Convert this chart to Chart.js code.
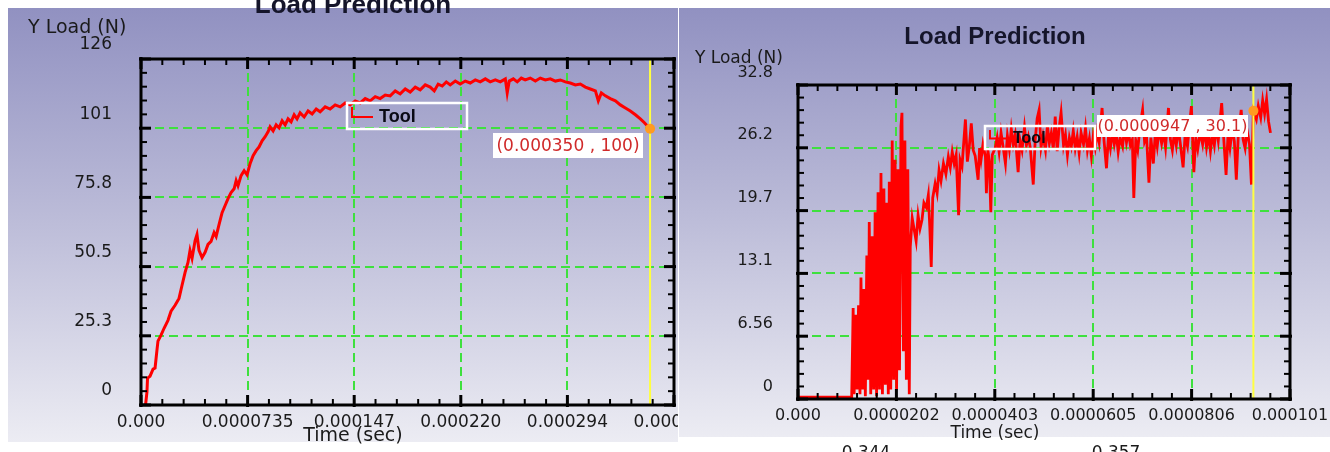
<!DOCTYPE html>
<html><head><meta charset="utf-8">
<script src="https://cdn.jsdelivr.net/npm/chart.js@4.4.1/dist/chart.umd.min.js"></script>
<style>
html,body{margin:0;padding:0;background:#fff;width:1330px;height:452px;overflow:hidden;}
.panel{position:absolute;top:0;height:452px;overflow:hidden;}
#pL{left:0;width:678px;}
#pR{left:679px;width:651px;}
canvas{display:block;}
</style></head><body>
<div class="panel" id="pL"><canvas id="cL" width="780" height="452" style="width:780px;height:452px"></canvas></div>
<div class="panel" id="pR"><canvas id="cR" width="740" height="452" style="width:740px;height:452px"></canvas></div>
<script>
// ---------- LEFT PANEL DATA (time in microseconds, load in N) ----------
const leftTimeUs = [2.5,4.1,4.5,6.2,8.3,9.7,11.0,11.7,13.8,15.9,
 18.6,20.7,23.5,26.2,28.3,30.4,32.4,33.8,35.2,37.3,
 38.6,40.0,42.1,44.2,46.2,48.3,50.4,51.8,53.8,55.9,
 58.0,60.0,62.1,64.2,65.6,66.9,69.0,71.1,73.1,75.2,
 77.3,79.4,81.4,83.5,85.6,87.6,89.0,91.1,93.2,95.2,
 97.3,99.4,101.4,103.5,105.6,107.6,109.7,112.5,115.2,118.0,
 120.8,123.5,127.0,130.4,133.9,137.3,140.8,144.2,147.7,151.1,
 154.6,158.0,161.5,164.9,168.4,171.8,175.3,178.7,182.2,185.6,
 189.1,192.5,196.0,199.4,202.2,204.9,207.7,210.5,213.2,216.7,
 220.1,223.6,227.0,230.5,233.9,237.4,240.8,244.3,247.7,251.2,
 252.5,253.9,256.7,259.4,262.2,264.9,268.4,271.9,275.3,278.8,
 282.2,285.7,289.1,292.6,296.0,299.5,302.9,306.4,309.8,313.3,
 315.3,317.4,320.2,323.6,327.1,330.5,334.0,337.4,340.9,344.3,
 347.1,349.6,351.0];
const leftLoadN = [-3,4.7,9.8,10.5,13.1,13.5,20,23.3,25.5,28,
 30.9,34.2,36.4,38.9,43.7,48.4,52,56.4,53.5,60,
 62.2,56.4,53.8,55.7,58.6,59.7,62.9,61.5,65.8,70.2,
 72.8,75.3,77.5,78.9,81.9,80,83.7,85.5,84,88,
 91,92.8,94.2,96.4,97.9,99.7,101.5,100,102.2,101.1,
 103.7,102.2,104.4,103.3,105.9,104.4,106.6,105.1,107.3,106.2,
 108,107,108.8,108,109.5,108.8,110.2,109.5,110.9,110.2,
 111.8,111,112.5,111.8,113.1,112.8,114.6,113.5,115.3,114.2,
 116,115,116.8,116,114.6,117.1,116.4,117.9,116.8,118.2,
 117.1,118.2,117.5,118.6,117.9,119,117.9,118.6,117.9,119,
 113.9,118.2,119,117.9,119.3,118.6,119.3,118.2,119.3,118.6,
 119,118.2,118.6,117.9,117.5,116.8,117.1,116,115.3,114.6,
 111,113.9,112.8,111.8,111,109.5,108.4,107.3,105.9,104.4,
 103,101.5,100.8];
const leftXTicks = [0,0.0000735,0.000147,0.0002205,0.000294,0.0003675];
const leftXLabels = ['0.000','0.0000735','0.000147','0.000220','0.000294','0.000367'];
const leftYTicks = [0,25.25,50.5,75.75,101,126.25];
const leftYLabels = ['0','25.3','50.5','75.8','101','126'];
const leftCursor = [351.0, 100.8];
const leftNote = '(0.000350 , 100)';

// ---------- RIGHT PANEL DATA ----------
const rightTimeUs = [0,11.0,
 11.3,11.5,11.8,12.1,12.4,12.7,12.9,13.2,13.5,13.8,
 14.1,14.4,14.6,14.9,15.2,15.5,15.8,16.1,16.4,16.7,
 17.0,17.3,17.6,17.9,18.2,18.5,18.7,19.0,19.3,19.6,
 19.9,20.2,20.5,20.8,21.1,21.3,21.6,21.9,22.2,22.5,
 22.8,23.0,23.4,
 24.2,24.6,25.0,25.4,25.8,26.3,26.7,27.0,27.3,27.6,
 28.1,28.5,28.9,29.3,29.8,30.3,30.8,31.2,31.6,32.0,
 32.4,32.9,33.2,33.6,34.3,34.7,35.1,35.5,35.9,36.3,
 36.9,37.2,37.5,37.9,38.4,38.6,38.9,39.2,39.5,39.8,
 40.4,
 40.8,41.2,41.6,42.0,42.5,42.9,43.3,43.7,44.1,44.5,
 45.1,45.5,45.9,46.4,46.8,47.2,47.6,48.2,48.6,49.0,
 49.4,49.8,50.2,50.7,51.1,51.5,51.9,52.3,52.7,53.1,
 53.5,53.9,54.4,54.8,55.2,55.6,56.0,56.4,56.8,57.2,
 57.6,58.0,58.5,58.9,59.3,59.7,60.1,60.5,60.9,61.3,
 61.7,62.3,62.7,63.2,63.6,64.0,64.4,64.8,65.2,65.6,
 66.0,66.5,66.9,67.3,67.7,68.1,68.5,68.8,69.2,69.6,
 70.1,70.6,71.0,71.4,71.9,72.3,72.8,73.2,73.6,74.0,
 74.5,74.9,75.3,75.9,76.3,76.7,77.1,77.5,77.9,78.3,
 78.9,79.3,79.8,80.2,80.6,81.1,81.5,81.9,82.4,82.9,
 83.3,83.7,84.1,84.5,84.9,85.3,85.7,86.1,86.8,87.2,
 87.7,88.1,88.5,89.0,89.4,89.8,90.2,90.8,91.2,91.6,
 92.0,92.5,92.9,93.3,93.9,94.3,94.8,95.2,95.6,96.0,
 96.4,96.8];
const rightLoadN = [0.2,0.2,
 9.5,0.5,8.8,1,9.8,0.5,12.7,1,11.5,0.3,
 15,2,18.5,0.5,17,1,19.5,0.3,21.6,1,
 23.6,0.5,22,1.5,20.5,0.5,22.7,1,27,2,
 25,1,24,3,28.5,29.9,5,27,2,24,
 0.5,15.9,18.9,
 16.5,19.2,17.8,18.7,20.5,20,21.3,18,13.8,21,
 22.5,21.5,23.9,22.8,24.6,23.5,25.3,24.2,25.8,24.6,
 25.5,19.2,25,24.3,29.2,24.8,26.4,28.8,26,25.4,
 22.9,26.2,25,26.6,25.3,21.5,26,24.8,19.5,25.5,
 26.2,
 27.3,25.8,27.8,26.4,24.6,27.5,26.1,28.2,26.6,27.6,
 23.7,27,26,28.4,26.5,27.4,26.2,22.4,27.1,29.3,
 30.2,26.3,27.5,26,28.6,26.7,27.8,26.1,29.5,25.9,
 28.3,29.9,26.5,27.6,25.5,27.3,26.4,28,26.2,27.4,
 25.7,27.8,26.6,28.3,26,27.2,25.4,27.5,26.3,27.9,
 26.8,30.4,27,24.1,27.4,26.2,28,26.6,27.7,25.8,
 27.3,26.4,28.4,26.8,27.9,26.5,27.1,21,27,26,
 28.6,30.2,26.9,27.5,22.6,27.3,24.6,27.8,26.4,28.2,
 26.7,27.9,26.3,30.4,27.1,26,27.8,26.5,28.3,26.8,
 24.2,27.5,26.4,28.6,30.6,23.7,27.3,26.1,27.9,26.6,
 28.2,26.3,27.6,25.9,27.7,26.5,28.4,27,30.9,27.4,
 23.4,27.6,26.2,28.3,26.9,22.9,27.5,30.2,27.1,26.2,
 28.1,26.6,22.4,30.1,29.2,30.6,29.4,31.2,29.8,31.3,
 29,27.8];
const rightXTicks = [0,0.00002016,0.00004032,0.00006048,0.00008064,0.0001008];
const rightXLabels = ['0.000','0.0000202','0.0000403','0.0000605','0.0000806','0.000101'];
const rightYTicks = [0,6.56,13.12,19.68,26.24,32.8];
const rightYLabels = ['0','6.56','13.1','19.7','26.2','32.8'];
const rightCursor = [93.3, 30.1];
const rightNote = '(0.0000947 , 30.1)';
const belowLabels = ['0.344','0.357'];

// ---------- drawing ----------
const TXT = '"DejaVu Sans", sans-serif';
const BLD = '"Liberation Sans", Arial, sans-serif';

function makePanel(P){
  const pts = [];
  const n = Math.min(P.time.length, P.load.length);
  for (let i=0;i<n;i++) pts.push({x:P.time[i]*1e-6, y:P.load[i]});
  const last = P.xTicks.length-1;
  const plugin = {
    id:'deco'+P.canvas,
    beforeDraw(chart){
      const ctx=chart.ctx; ctx.save();
      ctx.fillStyle='#ffffff'; ctx.fillRect(0,0,chart.width,chart.height);
      const b=P.bg; const g=ctx.createLinearGradient(0,b[1],0,b[3]);
      g.addColorStop(0,'#9191c1'); g.addColorStop(0.5,'#bdbdd9'); g.addColorStop(1,'#ececf3');
      ctx.fillStyle=g; ctx.fillRect(b[0],b[1],b[2]-b[0],b[3]-b[1]);
      ctx.restore();
    },
    afterDatasetsDraw(chart){
      const {ctx, chartArea:a, scales:{x,y}} = chart;
      ctx.save();
      const cx = x.getPixelForValue(P.cursor[0]*1e-6), cy = y.getPixelForValue(P.cursor[1]);
      ctx.strokeStyle='#ffff40'; ctx.lineWidth=2;
      ctx.beginPath(); ctx.moveTo(cx,a.top); ctx.lineTo(cx,a.bottom); ctx.stroke();
      ctx.fillStyle='#ff9a20'; ctx.beginPath(); ctx.arc(cx,cy,5,0,Math.PI*2); ctx.fill();
      const N=P.note; ctx.fillStyle='#ffffff'; ctx.fillRect(N.x,N.y,N.w,N.h);
      ctx.fillStyle='#d02a2a'; ctx.font=N.size+'px '+TXT; ctx.textAlign='center'; ctx.textBaseline='middle';
      ctx.fillText(N.text, N.x+N.w/2, N.y+N.h/2+1);
      const L=P.legend; ctx.strokeStyle='#ffffff'; ctx.lineWidth=2.5; ctx.strokeRect(L.x,L.y,L.w,L.h);
      ctx.strokeStyle='#ff0000'; ctx.lineWidth=2;
      ctx.beginPath(); ctx.moveTo(L.x+5,L.y+4); ctx.lineTo(L.x+5,L.y+L.h/2+1); ctx.lineTo(L.x+26,L.y+L.h/2+1); ctx.stroke();
      ctx.fillStyle='#0a0a14'; ctx.font='bold '+L.size+'px '+BLD; ctx.textAlign='left'; ctx.textBaseline='middle';
      ctx.fillText('Tool', L.tx, L.y+L.h/2+1);
      ctx.strokeStyle='#000';
      const seg=(x1,y1,x2,y2,w)=>{ctx.lineWidth=w;ctx.beginPath();ctx.moveTo(x1,y1);ctx.lineTo(x2,y2);ctx.stroke();};
      const sub=(arr)=>{const o=[];for(let i=0;i<arr.length-1;i++){for(let k=1;k<5;k++)o.push(arr[i]+(arr[i+1]-arr[i])*k/5);}return o;};
      sub(P.xTicks).forEach(v=>{const p=x.getPixelForValue(v); seg(p,a.bottom,p,a.bottom-6,2); seg(p,a.top,p,a.top+6,2);});
      P.xTicks.forEach(v=>{const p=x.getPixelForValue(v); seg(p,a.bottom+2,p,a.bottom-10,3); seg(p,a.top-2,p,a.top+10,3);});
      sub(P.yTicks).forEach(v=>{const p=y.getPixelForValue(v); seg(a.left,p,a.left+6,p,2); seg(a.right,p,a.right-6,p,2);});
      P.yTicks.forEach(v=>{const p=y.getPixelForValue(v); seg(a.left-2,p,a.left+10,p,3); seg(a.right+2,p,a.right-10,p,3);});
      ctx.lineWidth=3; ctx.strokeRect(a.left,a.top,a.right-a.left,a.bottom-a.top);
      ctx.restore();
    },
    afterDraw(chart){
      const ctx=chart.ctx; ctx.save();
      ctx.fillStyle='#15152a'; ctx.textBaseline='alphabetic';
      ctx.font='bold '+P.title.size+'px '+BLD; ctx.textAlign='center';
      ctx.fillText('Load Prediction', P.title.x, P.title.y);
      ctx.fillStyle='#1a1a1a';
      ctx.font=P.yTitle.size+'px '+TXT; ctx.textAlign='left';
      ctx.fillText('Y Load (N)', P.yTitle.x, P.yTitle.y);
      ctx.font=P.xTitle.size+'px '+TXT; ctx.textAlign='center';
      ctx.fillText('Time (sec)', P.xTitle.x, P.xTitle.y);
      if (P.extra){ ctx.font=P.extra.size+'px '+TXT; ctx.textBaseline='top';
        P.extra.labels.forEach((t,i)=>ctx.fillText(t, P.extra.xs[i], P.extra.y)); }
      ctx.restore();
    }
  };
  const gridColor = c => (c.index===0 || c.index===last) ? 'rgba(0,0,0,0)' : '#3ee03e';
  new Chart(document.getElementById(P.canvas), {
    type:'line',
    data:{datasets:[{label:'Tool', data:pts, borderColor:'#ff0000', borderWidth:P.lineW,
      pointRadius:0, tension:0, fill:false, borderJoinStyle:'miter'}]},
    options:{
      responsive:false, animation:false, devicePixelRatio:1, events:[],
      layout:{padding:{left:0, top:P.area.top, right:P.cw-P.area.right, bottom:0}},
      plugins:{legend:{display:false}, tooltip:{enabled:false}, title:{display:false}},
      scales:{
        x:{type:'linear', min:P.xTicks[0], max:P.xTicks[last],
          afterBuildTicks:s=>{s.ticks=P.xTicks.map(v=>({value:v}));},
          afterFit:s=>{s.height=P.ch-P.area.bottom;},
          ticks:{autoSkip:false, maxRotation:0, minRotation:0, padding:P.xPad, color:'#1a1a1a',
            font:{family:TXT, size:P.tick}, callback:(v,i)=>P.xLabels[i]},
          grid:{color:gridColor, lineWidth:2, drawTicks:false},
          border:{display:false, dash:[9,5]}},
        y:{type:'linear', min:P.yTicks[0], max:P.yTicks[P.yTicks.length-1],
          afterBuildTicks:s=>{s.ticks=P.yTicks.map(v=>({value:v}));},
          afterFit:s=>{s.width=P.area.left;},
          ticks:{autoSkip:false, padding:P.yPad, labelOffset:P.yOff, color:'#1a1a1a',
            font:{family:TXT, size:P.tick}, callback:(v,i)=>P.yLabels[i]},
          grid:{color:c => (c.index===0 || c.index===P.yTicks.length-1) ? 'rgba(0,0,0,0)' : '#3ee03e', lineWidth:2, drawTicks:false},
          border:{display:false, dash:[9,5]}}
      }
    },
    plugins:[plugin]
  });
}

makePanel({canvas:'cL', cw:780, ch:452, time:leftTimeUs, load:leftLoadN,
  xTicks:leftXTicks, xLabels:leftXLabels, yTicks:leftYTicks, yLabels:leftYLabels,
  area:{left:141, top:59, right:674, bottom:405}, bg:[8,8,678,442],
  tick:17, xPad:7, yPad:29, yOff:-14, lineW:3,
  title:{x:353, y:13, size:26}, yTitle:{x:28, y:33, size:19}, xTitle:{x:353, y:441, size:19},
  legend:{x:347, y:103, w:120, h:26, tx:379, size:18},
  note:{text:leftNote, x:493, y:133, w:150, h:25, size:17},
  cursor:leftCursor});

makePanel({canvas:'cR', cw:740, ch:452, time:rightTimeUs, load:rightLoadN,
  xTicks:rightXTicks, xLabels:rightXLabels, yTicks:rightYTicks, yLabels:rightYLabels,
  area:{left:119, top:85, right:611, bottom:399}, bg:[0,8,651,437],
  tick:16, xPad:7, yPad:25, yOff:-12.5, lineW:2.8,
  title:{x:316, y:44, size:24}, yTitle:{x:16, y:63, size:17}, xTitle:{x:316, y:438, size:17},
  legend:{x:306, y:126, w:110, h:23, tx:334, size:16},
  note:{text:rightNote, x:418, y:115, w:151, h:22, size:16},
  cursor:rightCursor,
  extra:{labels:belowLabels, xs:[187,437], y:445, size:17}});
</script>
</body></html>
